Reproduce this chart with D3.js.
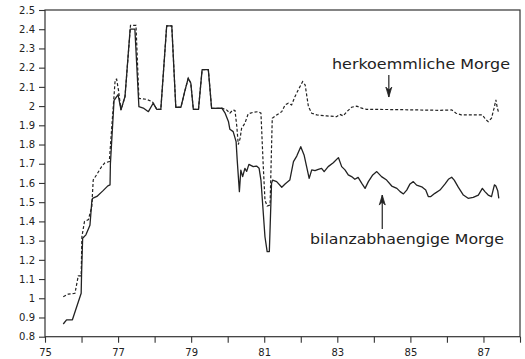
<!DOCTYPE html>
<html>
<head>
<meta charset="utf-8">
<script src="https://cdn.jsdelivr.net/npm/d3@7"></script>
<style>
  html, body { margin: 0; padding: 0; background: #fff; }
  svg { display: block; }
  .tick text { font-family: "DejaVu Sans", sans-serif; font-size: 10px; fill: #222; }
  .tick line { stroke: #333; stroke-width: 1.1; }
</style>
</head>
<body>
<script>
// ---- DATA ----
const yTickValues = [0.8, 0.9, 1.0, 1.1, 1.2, 1.3, 1.4, 1.5, 1.6, 1.7, 1.8, 1.9, 2.0, 2.1, 2.2, 2.3, 2.4, 2.5];
const xTickValues = [75, 76, 77, 78, 79, 80, 81, 82, 83, 84, 85, 86, 87, 88];
const xTickLabels = ["75", "", "77", "", "79", "", "81", "", "83", "", "85", "", "87", ""];

// bilanzabhaengige Marge (solid)
const bilanzYears = [75.50, 75.59, 75.75, 75.99, 76.00, 76.03, 76.12, 76.23, 76.28, 76.30, 76.42, 76.59, 76.72, 76.78, 76.79, 76.89, 77.00, 77.08, 77.19, 77.33, 77.46, 77.57, 77.69, 77.83, 77.96, 78.06, 78.17, 78.33, 78.47, 78.58, 78.72, 78.83, 78.92, 78.99, 79.06, 79.20, 79.30, 79.47, 79.56, 79.84, 79.93, 80.02, 80.06, 80.15, 80.23, 80.26, 80.32, 80.36, 80.41, 80.47, 80.52, 80.58, 80.70, 80.79, 80.86, 80.91, 81.02, 81.08, 81.14, 81.20, 81.23, 81.34, 81.48, 81.57, 81.70, 81.80, 81.89, 82.00, 82.09, 82.16, 82.23, 82.30, 82.39, 82.48, 82.57, 82.64, 82.75, 82.89, 83.03, 83.12, 83.21, 83.30, 83.39, 83.48, 83.57, 83.67, 83.76, 83.85, 83.97, 84.08, 84.21, 84.35, 84.49, 84.63, 84.72, 84.81, 84.90, 84.99, 85.08, 85.17, 85.31, 85.42, 85.49, 85.56, 85.67, 85.81, 85.95, 86.04, 86.13, 86.20, 86.31, 86.45, 86.58, 86.72, 86.86, 86.97, 87.04, 87.13, 87.22, 87.30, 87.34, 87.39, 87.42];
const bilanzValues = [0.866, 0.888, 0.888, 1.026, 1.12, 1.312, 1.33, 1.38, 1.50, 1.52, 1.53, 1.56, 1.585, 1.59, 1.70, 2.03, 2.06, 1.98, 2.05, 2.40, 2.40, 1.997, 1.99, 1.971, 2.015, 1.983, 1.983, 2.417, 2.417, 1.994, 1.994, 2.08, 2.145, 2.12, 1.983, 1.983, 2.19, 2.19, 1.988, 1.989, 1.963, 1.92, 1.879, 1.867, 1.815, 1.72, 1.555, 1.667, 1.633, 1.676, 1.66, 1.697, 1.685, 1.688, 1.676, 1.615, 1.32, 1.243, 1.243, 1.598, 1.615, 1.607, 1.578, 1.595, 1.615, 1.711, 1.74, 1.789, 1.746, 1.685, 1.624, 1.668, 1.664, 1.671, 1.676, 1.659, 1.685, 1.705, 1.732, 1.685, 1.668, 1.642, 1.633, 1.619, 1.629, 1.598, 1.572, 1.607, 1.642, 1.659, 1.633, 1.615, 1.584, 1.572, 1.555, 1.543, 1.563, 1.595, 1.607, 1.589, 1.58, 1.563, 1.529, 1.529, 1.546, 1.563, 1.595, 1.619, 1.63, 1.615, 1.578, 1.537, 1.52, 1.525, 1.537, 1.572, 1.555, 1.537, 1.529, 1.59, 1.584, 1.56, 1.52];

// herkoemmliche Marge (dashed)
const herkYears = [75.50, 75.64, 75.82, 75.91, 75.99, 76.01, 76.08, 76.19, 76.28, 76.32, 76.41, 76.55, 76.64, 76.76, 76.92, 76.96, 77.01, 77.08, 77.19, 77.34, 77.49, 77.57, 77.78, 77.94, 78.06, 78.17, 78.33, 78.47, 78.58, 78.72, 78.83, 78.92, 78.99, 79.06, 79.20, 79.30, 79.47, 79.56, 79.84, 79.97, 80.06, 80.14, 80.20, 80.25, 80.29, 80.34, 80.38, 80.47, 80.56, 80.70, 80.84, 80.91, 80.97, 81.02, 81.08, 81.16, 81.22, 81.34, 81.48, 81.57, 81.66, 81.75, 81.84, 81.93, 82.05, 82.12, 82.21, 82.30, 82.44, 82.71, 82.98, 83.07, 83.16, 83.26, 83.39, 83.53, 83.67, 83.80, 84.50, 85.20, 85.80, 86.13, 86.25, 86.39, 86.97, 87.06, 87.13, 87.22, 87.29, 87.34, 87.38, 87.42];
const herkValues = [1.008, 1.022, 1.026, 1.116, 1.116, 1.32, 1.399, 1.41, 1.477, 1.616, 1.642, 1.685, 1.705, 1.711, 2.136, 2.14, 2.084, 1.98, 2.05, 2.42, 2.42, 2.04, 2.035, 2.023, 1.983, 1.983, 2.417, 2.417, 1.994, 1.994, 2.08, 2.145, 2.12, 1.983, 1.983, 2.19, 2.19, 1.988, 1.989, 1.98, 1.963, 1.98, 1.977, 1.893, 1.80, 1.832, 1.884, 1.91, 1.959, 1.968, 1.971, 1.963, 1.702, 1.511, 1.48, 1.485, 1.937, 1.954, 1.971, 2.006, 2.015, 2.006, 2.049, 2.084, 2.127, 2.11, 1.997, 1.963, 1.954, 1.949, 1.945, 1.957, 1.949, 1.971, 1.994, 2.0, 1.989, 1.983, 1.982, 1.98, 1.978, 1.98, 1.963, 1.954, 1.954, 1.931, 1.919, 1.937, 1.989, 2.032, 1.99, 1.963];

const herkLabel = "herkoemmliche Morge";
const bilanzLabel = "bilanzabhaengige Morge";
const herkArrowAt = [84.41, 2.162, 2.047];   // year, tail value, tip value
const bilanzArrowAt = [84.23, 1.36, 1.537];

// ---- CHART ----
const W = 525, H = 359;
const svg = d3.select("body").append("svg").attr("width", W).attr("height", H);
svg.append("rect").attr("width", W).attr("height", H).attr("fill", "#fff");

const x = d3.scaleLinear().domain([75, 88]).range([45, 520]);
const y = d3.scaleLinear().domain([0.8, 2.5]).range([336.7, 10]);

// frame
svg.append("rect")
  .attr("x", x(75)).attr("y", y(2.5))
  .attr("width", x(88) - x(75)).attr("height", y(0.8) - y(2.5))
  .attr("fill", "none").attr("stroke", "#333").attr("stroke-width", 1.2);

const yAxis = d3.axisLeft(y).tickValues(yTickValues).tickSize(6).tickPadding(4)
  .tickFormat(d => (Math.abs(d - Math.round(d)) < 1e-9 ? String(Math.round(d)) : d.toFixed(1)));
svg.append("g").attr("transform", `translate(${x(75)},0)`).call(yAxis)
  .call(g => g.select(".domain").remove());

const xAxis = d3.axisBottom(x).tickValues(xTickValues).tickSize(6).tickPadding(6)
  .tickFormat((d, i) => xTickLabels[i]);
svg.append("g").attr("transform", `translate(0,${y(0.8)})`).call(xAxis)
  .call(g => g.select(".domain").remove());

const line = d3.line().x(d => x(d[0])).y(d => y(d[1]));
const herk = herkYears.map((t, i) => [t, herkValues[i]]);
const bilanz = bilanzYears.map((t, i) => [t, bilanzValues[i]]);

svg.append("path").datum(herk).attr("d", line)
  .attr("fill", "none").attr("stroke", "#222").attr("stroke-width", 1.2)
  .attr("stroke-dasharray", "3,2");
svg.append("path").datum(bilanz).attr("d", line)
  .attr("fill", "none").attr("stroke", "#222").attr("stroke-width", 1.3)
  .attr("stroke-linejoin", "round");

// annotations
const txt = (s, tx, ty, len) => svg.append("text").text(s)
  .attr("x", tx).attr("y", ty)
  .attr("textLength", len).attr("lengthAdjust", "spacingAndGlyphs")
  .attr("font-family", "'DejaVu Sans', sans-serif").attr("font-size", 14)
  .attr("fill", "#222");
txt(herkLabel, 332, 69, 178);
txt(bilanzLabel, 310, 244, 194);

function arrow(a) {
  const ax = x(a[0]), y1 = y(a[1]), y2 = y(a[2]);
  svg.append("line").attr("x1", ax).attr("x2", ax).attr("y1", y1).attr("y2", y2)
    .attr("stroke", "#222").attr("stroke-width", 1.2);
  const dir = y2 > y1 ? 1 : -1;
  const hl = 10, hw = 3;
  svg.append("path")
    .attr("d", `M${ax},${y2} L${ax - hw},${y2 - dir * hl} L${ax},${y2 - dir * (hl - 3)} L${ax + hw},${y2 - dir * hl} Z`)
    .attr("fill", "#222").attr("stroke", "#222").attr("stroke-width", 0.8);
}
arrow(herkArrowAt);
arrow(bilanzArrowAt);
</script>
</body>
</html>
